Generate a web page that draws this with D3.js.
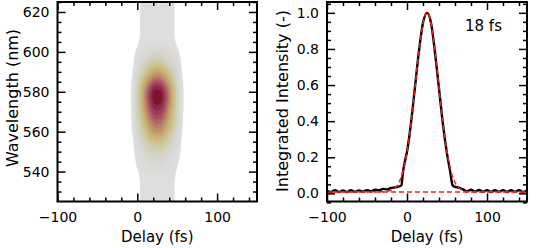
<!DOCTYPE html>
<html>
<head>
<meta charset="utf-8">
<script src="https://cdn.jsdelivr.net/npm/d3@7"></script>
<style>
body { margin: 0; background: #fff; }
text { font-family: "DejaVu Sans", Verdana, sans-serif; fill: #000; }
</style>
</head>
<body>
<svg id="chart" width="545" height="248"></svg>
<script>
// ---- left map: delay profile x spectrum ----
var mapDelays = [-20, -15, -10, -5, 0, 5, 10, 15, 20, 25, 30, 35, 40, 45, 50, 55, 60, 65, 70];
var mapProfile = [0, 0, 0.01, 0.1, 0.33, 0.52, 0.7, 0.86, 0.97, 1.0, 0.97, 0.86, 0.7, 0.52, 0.33, 0.1, 0.01, 0, 0];
var bandLevel = [0, 0, 0, 0, 0, 0.07, 0.07, 0.07, 0.07, 0.07, 0.07, 0.07, 0.07, 0.07, 0, 0, 0, 0, 0];

var wavelengths = [525, 527.5, 530, 532.5, 535, 537.5, 540, 542.5, 545, 547.5,
                   550, 552.5, 555, 557.5, 560, 562.5, 565, 567.5, 570, 572.5,
                   575, 577.5, 580, 582.5, 585, 587.5, 590, 592.5, 595, 597.5,
                   600, 602.5, 605, 607.5, 610, 612.5, 615, 617.5, 620, 622.5, 625];
var spectrum = [0, 0, 0, 0, 0.02, 0.08, 0.12, 0.16, 0.21, 0.26,
                0.32, 0.39, 0.47, 0.56, 0.65, 0.72, 0.78, 0.84, 0.89, 0.94,
                0.98, 1.0, 0.98, 0.92, 0.82, 0.71, 0.6, 0.49, 0.39, 0.3,
                0.22, 0.15, 0.1, 0.03, 0, 0, 0, 0, 0, 0, 0];

var contourLevels = [0.05, 0.1, 0.15, 0.2, 0.25, 0.3, 0.35, 0.4, 0.45, 0.5,
                     0.55, 0.6, 0.65, 0.7, 0.75, 0.8, 0.85, 0.9, 0.95];

// ---- right panel: integrated intensity ----
var traceDelays = [-100, -95, -90, -85, -80, -75, -70, -65, -60, -55, -50, -45, -40, -35, -30, -25, -20, -15, -10, -7,
                   -5, -2, 0, 5, 10, 15, 20, 25, 30, 35, 40, 45, 50, 54, 57, 60, 65, 70, 75, 80,
                   85, 90, 95, 100, 105, 110, 115, 120, 125, 130, 135, 140, 145, 150];
var traceValues = [0.014, 0.008, 0.017, 0.008, 0.016, 0.008, 0.017, 0.009, 0.016, 0.01, 0.018, 0.012, 0.02, 0.017, 0.025, 0.022, 0.03, 0.033, 0.038, 0.045,
                   0.12, 0.19, 0.23, 0.39, 0.59, 0.79, 0.945, 1.0, 0.945, 0.78, 0.58, 0.38, 0.22, 0.12, 0.045, 0.036, 0.032, 0.022, 0.012, 0.02,
                   0.01, 0.019, 0.009, 0.018, 0.008, 0.017, 0.009, 0.018, 0.008, 0.017, 0.009, 0.018, 0.008, 0.016];

var fitDelays = [-100, -30, -25, -20, -15, -10, -5, 0, 5, 10, 15, 20, 25, 30, 35, 40, 45, 50, 55, 60, 65, 70, 75, 80, 150];
var fitValues = [0.008, 0.009, 0.011, 0.017, 0.03, 0.06, 0.121, 0.229, 0.386, 0.585, 0.788, 0.942, 1.005, 0.942, 0.788, 0.585, 0.386, 0.229, 0.121, 0.06, 0.03, 0.017, 0.011, 0.009, 0.008];
var baselineDelays = [-100, 150];
var baselineValues = [0.008, 0.008];

var durationLabel = "18 fs";

var delayTicks = [-100, 0, 100];
var delayMinor = [-80, -60, -40, -20, 20, 40, 60, 80, 120, 140];
var wavelengthTicks = [540, 560, 580, 600, 620];
var wavelengthMinor = [530, 535, 545, 550, 555, 565, 570, 575, 585, 590, 595, 605, 610, 615, 625];
var intensityTicks = [0, 0.2, 0.4, 0.6, 0.8, 1.0];
var intensityMinor = [-0.05, 0.05, 0.1, 0.15, 0.25, 0.3, 0.35, 0.45, 0.5, 0.55, 0.65, 0.7, 0.75, 0.85, 0.9, 0.95, 1.05];

var svg = d3.select("#chart");

var plotTop = 2, plotBottom = 201.5;
var xL = d3.scaleLinear().domain([-100, 150]).range([57.5, 257]);
var yL = d3.scaleLinear().domain([525, 625]).range([plotBottom, plotTop]);
var xR = d3.scaleLinear().domain([-100, 150]).range([327, 527]);
var yR = d3.scaleLinear().domain([-0.045, 1.06]).range([plotBottom, plotTop]);

var color = d3.scaleLinear()
    .domain([0.05, 0.15, 0.25, 0.35, 0.45, 0.55, 0.65, 0.72, 0.8, 0.88, 0.95])
    .range(["#dedede", "#d8d8d5", "#d4d2c6", "#d0cba8", "#cbbf88", "#c6ad72", "#be8f6a", "#b4706c", "#a64f62", "#952f50", "#7a1430"]);

// heat map
svg.append("clipPath").attr("id", "clipL")
    .append("rect").attr("x", 57.5).attr("y", plotTop).attr("width", 199.5).attr("height", plotBottom - plotTop);

var nx = mapDelays.length, ny = wavelengths.length;
var grid = new Array(nx * ny);
for (var j = 0; j < ny; j++) {
    for (var i = 0; i < nx; i++) {
        grid[i + j * nx] = Math.max(bandLevel[i], mapProfile[i] * spectrum[j]);
    }
}
var dStep = mapDelays[1] - mapDelays[0], wStep = wavelengths[1] - wavelengths[0];
var proj = d3.geoTransform({
    point: function(px, py) {
        this.stream.point(xL(mapDelays[0] + (px - 0.5) * dStep), yL(wavelengths[0] + (py - 0.5) * wStep));
    }
});
var contours = d3.contours().size([nx, ny]).thresholds(contourLevels)(grid);

svg.append("g").attr("clip-path", "url(#clipL)")
    .selectAll("path")
    .data(contours)
    .enter()
    .append("path")
    .attr("d", d3.geoPath(proj))
    .attr("fill", function(d) { return color(d.value); })
    .attr("stroke", function(d) { return color(d.value); })
    .attr("stroke-width", 0.3);

// lines
var line = d3.line()
    .x(function(d) { return xR(d[0]); })
    .y(function(d) { return yR(d[1]); })
    .curve(d3.curveMonotoneX);

svg.append("clipPath").attr("id", "clipR")
    .append("rect").attr("x", 327).attr("y", plotTop).attr("width", 200).attr("height", plotBottom - plotTop);

var gR = svg.append("g").attr("clip-path", "url(#clipR)");

gR.append("path")
    .attr("d", line(d3.zip(traceDelays, traceValues)))
    .attr("fill", "none")
    .attr("stroke", "#000")
    .attr("stroke-width", 2.4)
    .attr("stroke-linejoin", "round");

gR.append("path")
    .attr("d", line(d3.zip(baselineDelays, baselineValues)))
    .attr("fill", "none")
    .attr("stroke", "#ff1a1a")
    .attr("stroke-width", 1.5)
    .attr("stroke-dasharray", "5,3");

gR.append("path")
    .attr("d", line(d3.zip(fitDelays, fitValues)))
    .attr("fill", "none")
    .attr("stroke", "#ff1a1a")
    .attr("stroke-width", 1.5)
    .attr("stroke-dasharray", "5,3")
    .attr("stroke-dashoffset", 4);

svg.append("text")
    .attr("x", 465)
    .attr("y", 31)
    .style("font-size", "15px")
    .text(durationLabel);

// axes and frames
function frame(x, y, yTicks, yMinor, yFormat) {
    var x0 = x.range()[0], x1 = x.range()[1];
    var g = svg.append("g");

    function ax(axis, tx, ty, size, ticks, fmt, pad) {
        var a = g.append("g")
            .attr("transform", "translate(" + tx + "," + ty + ")")
            .call(axis.tickValues(ticks).tickSize(size).tickPadding(pad).tickFormat(fmt));
        a.select(".domain").remove();
        a.selectAll("line").attr("stroke-width", 1.5);
        a.selectAll("text").style("font-size", "14px").style("font-family", "DejaVu Sans, Verdana, sans-serif");
        return a;
    }
    var fx = d3.format("d");
    ax(d3.axisBottom(x), 0, plotBottom, -8, delayTicks, fx, 11);
    ax(d3.axisBottom(x), 0, plotBottom, -4, delayMinor, "", 11);
    ax(d3.axisTop(x), 0, plotTop, -8, delayTicks, "", 3);
    ax(d3.axisTop(x), 0, plotTop, -4, delayMinor, "", 3);
    ax(d3.axisLeft(y), x0, 0, -8, yTicks, yFormat, 8);
    ax(d3.axisLeft(y), x0, 0, -4, yMinor, "", 8);
    ax(d3.axisRight(y), x1, 0, -8, yTicks, "", 3);
    ax(d3.axisRight(y), x1, 0, -4, yMinor, "", 3);

    g.append("rect")
        .attr("x", x0)
        .attr("y", plotTop)
        .attr("width", x1 - x0)
        .attr("height", plotBottom - plotTop)
        .attr("fill", "none")
        .attr("stroke", "#000")
        .attr("stroke-width", 2);

    g.append("text")
        .attr("x", (x0 + x1) / 2)
        .attr("y", 242)
        .attr("text-anchor", "middle")
        .style("font-size", "15px")
        .text("Delay (fs)");
}

frame(xL, yL, wavelengthTicks, wavelengthMinor, d3.format("d"));
frame(xR, yR, intensityTicks, intensityMinor, d3.format(".1f"));

svg.append("text")
    .attr("transform", "translate(18,98) rotate(-90)")
    .attr("text-anchor", "middle")
    .style("font-size", "16px")
    .text("Wavelength (nm)");

svg.append("text")
    .attr("transform", "translate(288,101) rotate(-90)")
    .attr("text-anchor", "middle")
    .style("font-size", "16px")
    .text("Integrated Intensity (-)");
</script>
</body>
</html>
